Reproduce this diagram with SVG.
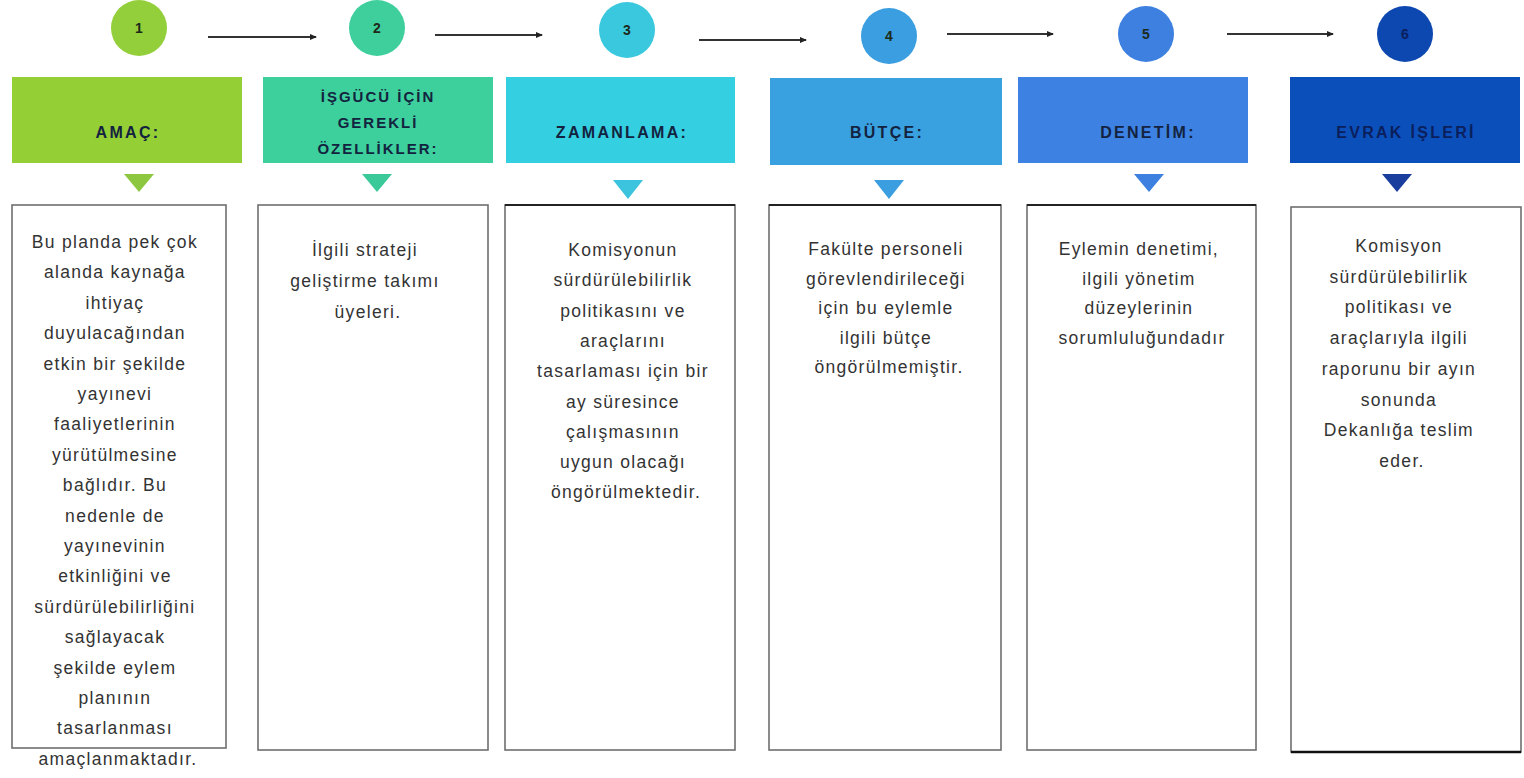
<svg xmlns="http://www.w3.org/2000/svg" width="1524" height="778" viewBox="0 0 1524 778">
<style>
.num{font-family:"Liberation Sans",Arial,sans-serif;font-weight:bold;font-size:14px;text-anchor:middle;fill:#1d2a1a}
.hdr{font-family:"Liberation Sans",Arial,sans-serif;font-weight:bold;font-size:16px;letter-spacing:2.3px;text-anchor:middle;fill:#13233f}
.hdr2{font-family:"Liberation Sans",Arial,sans-serif;font-weight:bold;font-size:15px;letter-spacing:2px;text-anchor:middle;fill:#13233f}
.box{fill:#ffffff;stroke:#6f6f6f;stroke-width:1.6}
.topline{stroke:#222;stroke-width:2}
.body{font-family:"Liberation Sans",Arial,sans-serif;font-size:17.5px;letter-spacing:1.3px;text-anchor:middle;fill:#333333}
.conn{stroke:#333;stroke-width:2;fill:none}
</style>
<defs>
<marker id="ah" markerWidth="7" markerHeight="7" refX="6" refY="3.5" orient="auto" markerUnits="userSpaceOnUse">
<path d="M0,0.5 L7,3.5 L0,6.5 z" fill="#222"/>
</marker>
</defs>
<rect width="1524" height="778" fill="#ffffff"/>

<g id="connectors">
<line class="conn" x1="208" y1="37" x2="316" y2="37" stroke="#666" marker-end="url(#ah)"/>
<line class="conn" x1="435" y1="35" x2="542" y2="35" marker-end="url(#ah)"/>
<line class="conn" x1="699" y1="40" x2="806" y2="40" stroke="#666" marker-end="url(#ah)"/>
<line class="conn" x1="947" y1="34" x2="1053" y2="34" marker-end="url(#ah)"/>
<line class="conn" x1="1227" y1="34" x2="1333" y2="34" marker-end="url(#ah)"/>
</g>

<g id="step1">
<circle cx="139" cy="28" r="28" fill="#93cf3a"/>
<text class="num" x="139" y="33">1</text>
<rect x="12" y="77" width="230" height="86" fill="#95cf36"/>
<text class="hdr" x="128" y="138">AMAÇ:</text>
<polygon points="124,174 154,174 139,192" fill="#8dc63f"/>
<rect class="box" x="12" y="205" width="214" height="543"/>
<text class="body" x="118" y="248">
<tspan x="118" dy="0">Bu planda pek çok</tspan>
<tspan x="118" dy="30.4">alanda kaynağa</tspan>
<tspan x="118" dy="30.4">ihtiyaç</tspan>
<tspan x="118" dy="30.4">duyulacağından</tspan>
<tspan x="118" dy="30.4">etkin bir şekilde</tspan>
<tspan x="118" dy="30.4">yayınevi</tspan>
<tspan x="118" dy="30.4">faaliyetlerinin</tspan>
<tspan x="118" dy="30.4">yürütülmesine</tspan>
<tspan x="118" dy="30.4">bağlıdır. Bu</tspan>
<tspan x="118" dy="30.4">nedenle de</tspan>
<tspan x="118" dy="30.4">yayınevinin</tspan>
<tspan x="118" dy="30.4">etkinliğini ve</tspan>
<tspan x="118" dy="30.4">sürdürülebilirliğini</tspan>
<tspan x="118" dy="30.4">sağlayacak</tspan>
<tspan x="118" dy="30.4">şekilde eylem</tspan>
<tspan x="118" dy="30.4">planının</tspan>
<tspan x="118" dy="30.4">tasarlanması</tspan>
<tspan x="118" dy="30.4">amaçlanmaktadır.</tspan>
</text>
</g>

<g id="step2">
<circle cx="377" cy="28" r="28" fill="#3ecf9d"/>
<text class="num" x="377" y="33">2</text>
<rect x="263" y="77" width="230" height="86" fill="#3dcf9c"/>
<text class="hdr2" x="378" y="102">İŞGÜCÜ İÇİN</text>
<text class="hdr2" x="378" y="128">GEREKLİ</text>
<text class="hdr2" x="378" y="154">ÖZELLİKLER:</text>
<polygon points="362,174 392,174 377,192" fill="#3cc99a"/>
<rect class="box" x="258" y="205" width="230" height="545"/>
<text class="body" x="368" y="256">
<tspan x="368" dy="0">İlgili strateji</tspan>
<tspan x="368" dy="31">geliştirme takımı</tspan>
<tspan x="368" dy="31">üyeleri.</tspan>
</text>
</g>

<g id="step3">
<circle cx="627" cy="30" r="28" fill="#3ac8de"/>
<text class="num" x="627" y="35">3</text>
<rect x="506" y="77" width="229" height="86" fill="#34cfe0"/>
<text class="hdr" x="622" y="138">ZAMANLAMA:</text>
<polygon points="613,180 643,180 628,199" fill="#3cc3dd"/>
<rect class="box" x="505" y="205" width="230" height="545"/>
<line class="topline" x1="505" y1="205" x2="735" y2="205"/>
<text class="body" x="626" y="256">
<tspan x="626" dy="0">Komisyonun</tspan>
<tspan x="626" dy="30.3">sürdürülebilirlik</tspan>
<tspan x="626" dy="30.3">politikasını ve</tspan>
<tspan x="626" dy="30.3">araçlarını</tspan>
<tspan x="626" dy="30.3">tasarlaması için bir</tspan>
<tspan x="626" dy="30.3">ay süresince</tspan>
<tspan x="626" dy="30.3">çalışmasının</tspan>
<tspan x="626" dy="30.3">uygun olacağı</tspan>
<tspan x="626" dy="30.3">öngörülmektedir.</tspan>
</text>
</g>

<g id="step4">
<circle cx="889" cy="36" r="28" fill="#3a9ee0"/>
<text class="num" x="889" y="41">4</text>
<rect x="770" y="78" width="232" height="87" fill="#3aa1e0"/>
<text class="hdr" x="887" y="138">BÜTÇE:</text>
<polygon points="874,180 904,180 889,199" fill="#3a9ee0"/>
<rect class="box" x="769" y="205" width="232" height="545"/>
<line class="topline" x1="769" y1="205" x2="1001" y2="205"/>
<text class="body" x="889" y="255">
<tspan x="889" dy="0">Fakülte personeli</tspan>
<tspan x="889" dy="29.5">görevlendirileceği</tspan>
<tspan x="889" dy="29.5">için bu eylemle</tspan>
<tspan x="889" dy="29.5">ilgili bütçe</tspan>
<tspan x="889" dy="29.5">öngörülmemiştir.</tspan>
</text>
</g>

<g id="step5">
<circle cx="1146" cy="34" r="28" fill="#3d80e0"/>
<text class="num" x="1146" y="39">5</text>
<rect x="1018" y="77" width="230" height="86" fill="#3d82e2"/>
<text class="hdr" x="1148" y="138">DENETİM:</text>
<polygon points="1134,174 1164,174 1149,192" fill="#3d80e0"/>
<rect class="box" x="1027" y="205" width="229" height="545"/>
<line class="topline" x1="1027" y1="205" x2="1256" y2="205"/>
<text class="body" x="1142" y="255">
<tspan x="1142" dy="0">Eylemin denetimi,</tspan>
<tspan x="1142" dy="29.5">ilgili yönetim</tspan>
<tspan x="1142" dy="29.5">düzeylerinin</tspan>
<tspan x="1142" dy="29.5">sorumluluğundadır</tspan>
</text>
</g>

<g id="step6">
<circle cx="1405" cy="34" r="28" fill="#0d47b0"/>
<text class="num" x="1405" y="39" style="fill:#0a1f5c">6</text>
<rect x="1290" y="77" width="230" height="86" fill="#0b4fbb"/>
<text class="hdr" x="1406" y="138" style="fill:#0a1f5c">EVRAK İŞLERİ</text>
<polygon points="1382,174 1412,174 1397,192" fill="#1a3e9e"/>
<rect class="box" x="1291" y="207" width="230" height="545"/>
<line x1="1291" y1="752" x2="1521" y2="752" stroke="#111" stroke-width="2.5"/>
<text class="body" x="1402" y="252">
<tspan x="1402" dy="0">Komisyon</tspan>
<tspan x="1402" dy="30.7">sürdürülebilirlik</tspan>
<tspan x="1402" dy="30.7">politikası ve</tspan>
<tspan x="1402" dy="30.7">araçlarıyla ilgili</tspan>
<tspan x="1402" dy="30.7">raporunu bir ayın</tspan>
<tspan x="1402" dy="30.7">sonunda</tspan>
<tspan x="1402" dy="30.7">Dekanlığa teslim</tspan>
<tspan x="1402" dy="30.7">eder.</tspan>
</text>
</g>
</svg>
